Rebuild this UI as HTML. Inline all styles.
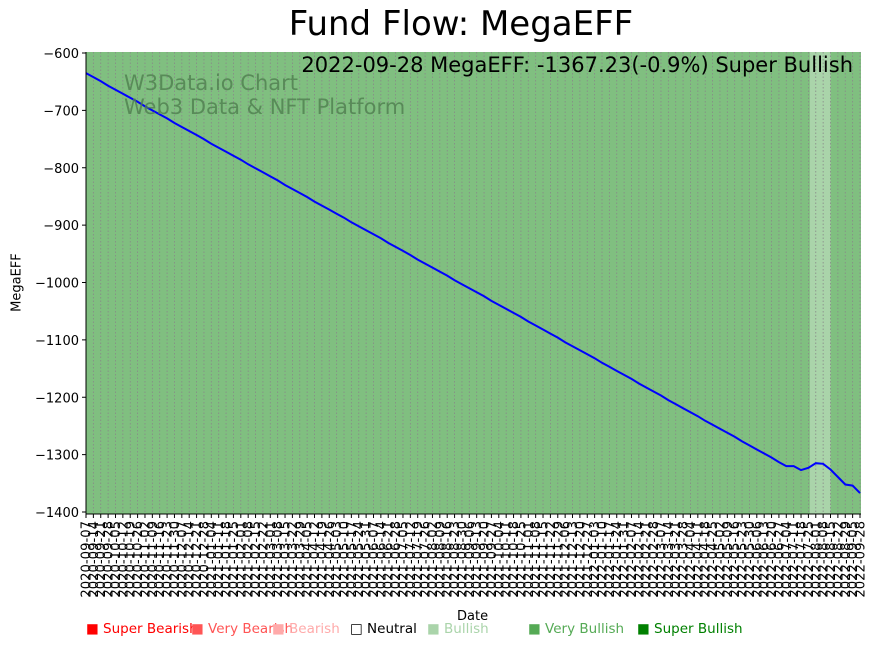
<!DOCTYPE html>
<html><head><meta charset="utf-8"><style>
body{margin:0;background:#fff;}
svg{display:block;font-family:"DejaVu Sans","Liberation Sans",sans-serif;}
</style></head><body>
<svg id="c" width="878" height="646"></svg>
<script>
const values=[-635,-642,-649,-657,-664,-671,-678,-685,-693,-700,
-707,-714,-722,-729,-736,-743,-750,-758,-765,-772,
-779,-786,-794,-801,-808,-815,-822,-830,-837,-844,
-851,-859,-866,-873,-880,-887,-895,-902,-909,-916,
-923,-931,-938,-945,-952,-960,-967,-974,-981,-988,
-996,-1003,-1010,-1017,-1024,-1032,-1039,-1046,-1053,-1060,
-1068,-1075,-1082,-1089,-1096,-1104,-1111,-1118,-1125,-1132,
-1140,-1147,-1154,-1161,-1168,-1176,-1183,-1190,-1197,-1205,
-1212,-1219,-1226,-1233,-1241,-1248,-1255,-1262,-1269,-1277,
-1284,-1291,-1298,-1305,-1313,-1320,-1320,-1327,-1323,-1315,
-1316,-1326,-1339,-1352,-1354,-1367];
const yTicks=[-600,-700,-800,-900,-1000,-1100,-1200,-1300,-1400];
const bandStart=98.2, bandEnd=101;
const categories=[];
(function(){const d0=new Date(Date.UTC(2020,8,7));
for(let i=0;i<values.length;i++){const d=new Date(d0.getTime()+i*7*864e5);categories.push(d.toISOString().slice(0,10));}
categories[categories.length-1]='2022-09-28';})();

const NS='http://www.w3.org/2000/svg';
const svg=document.getElementById('c');
const L=86,R=861,T=52,B=514;
const x=i=>L+(R-1-L)*i/(values.length-1);
const y=v=>53+(v+600)*(512-53)/(-800);
function el(tag,attrs,parent){const e=document.createElementNS(NS,tag);for(const k in attrs)e.setAttribute(k,attrs[k]);(parent||svg).appendChild(e);return e;}

const bg=el('rect',{x:L,y:T,width:R-L,height:B-T,fill:'#80bf80'});


const band=el('rect',{x:x(bandStart),y:T,width:x(bandEnd)-x(bandStart),height:B-T,fill:'#aad4aa'});


for(let i=0;i<values.length;i++){
  const g=el('line',{x1:x(i),x2:x(i),y1:T,y2:B,stroke:'#888',"stroke-width":0.8,"stroke-dasharray":'1.5,2'});
  
  
}
const pts=values.map((v,i)=>x(i).toFixed(1)+','+y(v).toFixed(1)).join(' ');
const line=el('polyline',{points:pts,fill:'none',stroke:'#0000ff',"stroke-width":2});


el('line',{x1:L,x2:L,y1:T,y2:B,stroke:'#000',"stroke-width":1});
el('line',{x1:L,x2:R,y1:B,y2:B,stroke:'#000',"stroke-width":1});
yTicks.forEach(t=>{
  el('line',{x1:L-4,x2:L,y1:y(t),y2:y(t),stroke:'#000'});
  const tx=el('text',{x:L-7,y:y(t)+5,"text-anchor":'end',"font-size":13});
  tx.textContent=String(t).replace('-','\u2212');
  
  
});
categories.forEach((c,i)=>{
  el('line',{x1:x(i),x2:x(i),y1:B,y2:B+4,stroke:'#000'});
  const tx=el('text',{x:0,y:0,"text-anchor":'end',"font-size":13.2,transform:`translate(${x(i)+4.5},${B+7}) rotate(-90)`});
  tx.textContent=c;
  
  
});
</script>
<div style="position:absolute;left:0;top:0;width:878px;height:646px;pointer-events:none;font-family:'DejaVu Sans','Liberation Sans',sans-serif;">
<div style="position:absolute;left:0;width:922px;top:4px;text-align:center;font-size:34px;">Fund Flow: MegaEFF</div>
<div style="position:absolute;right:25px;top:53px;font-size:21px;">2022-09-28 MegaEFF: -1367.23(-0.9%) Super Bullish</div>
<div style="position:absolute;left:124px;top:71px;font-size:21px;color:#4f7f4f;opacity:0.8;line-height:24px;">W3Data.io Chart<br>Web3 Data &amp; NFT Platform</div>
<div style="position:absolute;left:-13px;top:275px;font-size:13px;transform:rotate(-90deg);width:60px;text-align:center;">MegaEFF</div>
<div style="position:absolute;left:457px;top:609px;font-size:13px;">Date</div>
<div style="position:absolute;top:621px;left:86px;font-size:13.5px;white-space:nowrap;">
<span style="position:absolute;left:0;color:#ff0000">■ Super Bearish</span>
<span style="position:absolute;left:105px;color:#ff5555">■ Very Bearish</span>
<span style="position:absolute;left:186px;color:#ffaaaa">■ Bearish</span>
<span style="position:absolute;left:264px;color:#000">□ Neutral</span>
<span style="position:absolute;left:341px;color:#aad4aa">■ Bullish</span>
<span style="position:absolute;left:442px;color:#55aa55">■ Very Bullish</span>
<span style="position:absolute;left:551px;color:#008000">■ Super Bullish</span>
</div>
</div>
</body></html>
